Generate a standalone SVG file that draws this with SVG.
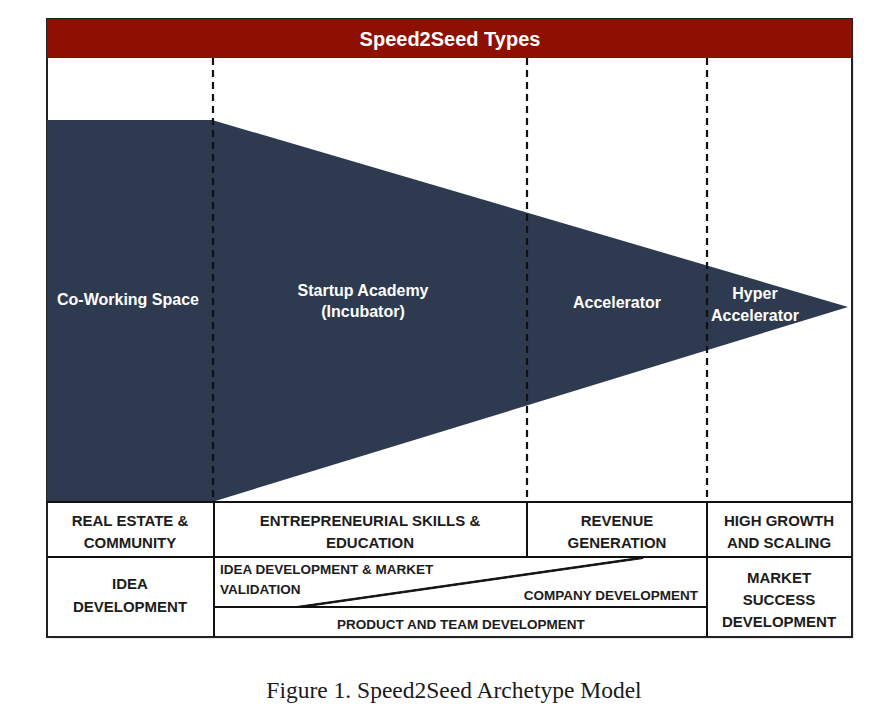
<svg xmlns="http://www.w3.org/2000/svg" width="892" height="709" viewBox="0 0 892 709">
<style>
.w{fill:#ffffff;font-family:"Liberation Sans",Arial,sans-serif;font-weight:bold;font-size:16px;text-anchor:middle}
.t{fill:#1c1c1c;font-family:"Liberation Sans",Arial,sans-serif;font-weight:bold;font-size:15px;text-anchor:middle}
.s{fill:#1c1c1c;font-family:"Liberation Sans",Arial,sans-serif;font-weight:bold;font-size:13.5px}
.ln{stroke:#111;stroke-width:2;fill:none}
.dash{stroke:#111;stroke-width:2.2;stroke-dasharray:7 5;fill:none}
</style>
<rect width="892" height="709" fill="#ffffff"/>
<g id="frame">
<rect x="49" y="21" width="805" height="618" fill="#d8d8d8" opacity="0.5"/>
<rect x="47" y="19" width="805" height="618" fill="#ffffff" stroke="#222" stroke-width="2"/>
</g>
<g id="header">
<rect x="47" y="19" width="805" height="39" fill="#8E1000"/>
<text x="450" y="46" class="w" style="font-size:20px">Speed2Seed Types</text>
</g>
<g id="funnel">
<rect x="47" y="120" width="166" height="382" fill="#2E3A50"/>
<polygon points="212,120 848,307 212,502" fill="#2E3A50"/>
</g>
<g id="connectors">
<line x1="213" y1="58" x2="213" y2="502" class="dash"/>
<line x1="527" y1="58" x2="527" y2="502" class="dash"/>
<line x1="707" y1="58" x2="707" y2="502" class="dash"/>
</g>
<g id="coworking"><text x="128" y="305" class="w">Co-Working Space</text></g>
<g id="startup-academy"><text x="363" y="296" class="w">Startup Academy</text><text x="363" y="317" class="w">(Incubator)</text></g>
<g id="accelerator"><text x="617" y="308" class="w">Accelerator</text></g>
<g id="hyper-accelerator"><text x="755" y="299" class="w">Hyper</text><text x="755" y="321" class="w">Accelerator</text></g>
<g id="table">
<line x1="47" y1="502" x2="852" y2="502" class="ln"/>
<line x1="47" y1="557" x2="852" y2="557" class="ln"/>
<line x1="214" y1="502" x2="214" y2="637" class="ln"/>
<line x1="527" y1="502" x2="527" y2="557" class="ln"/>
<line x1="707" y1="502" x2="707" y2="637" class="ln"/>
<line x1="214" y1="607" x2="707" y2="607" class="ln"/>
<polygon points="290,607.5 643,557 643,558.5 300,607.5" fill="#111" stroke="#111" stroke-width="1"/>
</g>
<g id="real-estate"><text x="130" y="526" class="t">REAL ESTATE &amp;</text><text x="130" y="548" class="t">COMMUNITY</text></g>
<g id="entrepreneurial"><text x="370" y="526" class="t">ENTREPRENEURIAL SKILLS &amp;</text><text x="370" y="548" class="t">EDUCATION</text></g>
<g id="revenue"><text x="617" y="526" class="t">REVENUE</text><text x="617" y="548" class="t">GENERATION</text></g>
<g id="high-growth"><text x="779" y="526" class="t">HIGH GROWTH</text><text x="779" y="548" class="t">AND SCALING</text></g>
<g id="idea-dev"><text x="130" y="589" class="t">IDEA</text><text x="130" y="612" class="t">DEVELOPMENT</text></g>
<g id="idea-market"><text x="220" y="574" class="s">IDEA DEVELOPMENT &amp; MARKET</text><text x="220" y="594" class="s">VALIDATION</text></g>
<g id="company-dev"><text x="698" y="600" class="s" text-anchor="end">COMPANY DEVELOPMENT</text></g>
<g id="product-team"><text x="461" y="629" class="s" text-anchor="middle">PRODUCT AND TEAM DEVELOPMENT</text></g>
<g id="market-success"><text x="779" y="583" class="t">MARKET</text><text x="779" y="605" class="t">SUCCESS</text><text x="779" y="627" class="t">DEVELOPMENT</text></g>
<g id="caption"><text x="454" y="698" style="font-family:'Liberation Serif','Times New Roman',serif;font-size:23.5px;fill:#1a1a1a;text-anchor:middle">Figure 1. Speed2Seed Archetype Model</text></g>
</svg>
